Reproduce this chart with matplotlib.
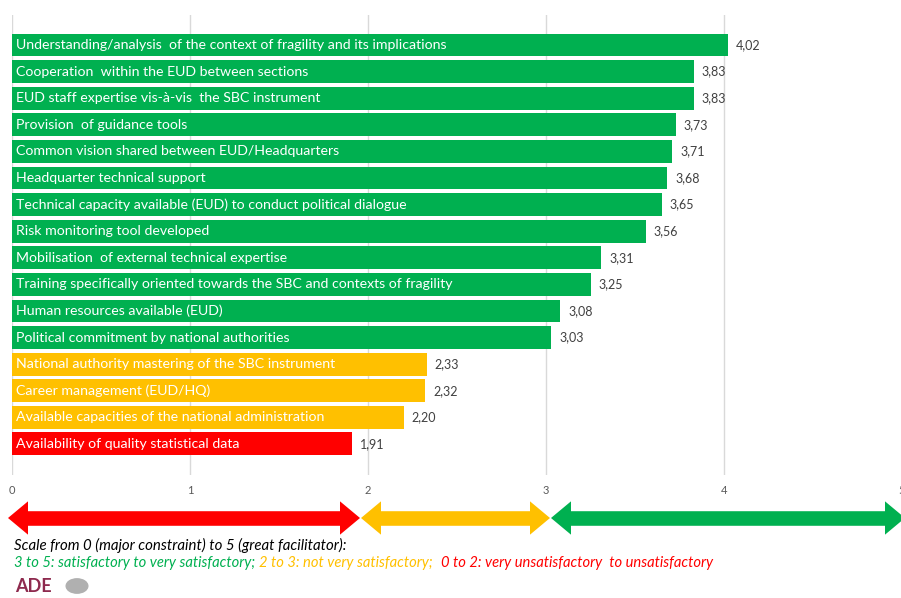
import matplotlib.pyplot as plt
from matplotlib.patches import FancyArrowPatch, Circle

plt.rcParams['font.family'] = ['Lato', 'DejaVu Sans']

labels = [
    "Understanding/analysis  of the context of fragility and its implications",
    "Cooperation  within the EUD between sections",
    "EUD staff expertise vis-à-vis  the SBC instrument",
    "Provision  of guidance tools",
    "Common vision shared between EUD/Headquarters",
    "Headquarter technical support",
    "Technical capacity available (EUD) to conduct political dialogue",
    "Risk monitoring tool developed",
    "Mobilisation  of external technical expertise",
    "Training specifically oriented towards the SBC and contexts of fragility",
    "Human resources available (EUD)",
    "Political commitment by national authorities",
    "National authority mastering of the SBC instrument",
    "Career management (EUD/HQ)",
    "Available capacities of the national administration",
    "Availability of quality statistical data",
]
scores = [4.02, 3.83, 3.83, 3.73, 3.71, 3.68, 3.65, 3.56,
          3.31, 3.25, 3.08, 3.03, 2.33, 2.32, 2.20, 1.91]

GREEN = "#00B050"
ORANGE = "#FFC000"
RED = "#FF0000"


def band_colour(v):
    if v >= 3:
        return GREEN
    if v >= 2:
        return ORANGE
    return RED


W, H = 901, 598
fig = plt.figure(figsize=(W / 100, H / 100), dpi=100)
ax = fig.add_axes([12 / W, (H - 475) / H, 890 / W, 460 / H])

pos = list(range(len(scores)))
ax.barh(pos, scores, height=0.86, color=[band_colour(v) for v in scores], zorder=2)
for y, v, name in zip(pos, scores, labels):
    ax.text(0.02, y, name, color="white", fontsize=10.2, va="center", ha="left", zorder=3)
    ax.text(v + 0.045, y, f"{v:.2f}".replace(".", ","), color="#404040",
            fontsize=9, va="center", ha="left")

ax.set_xlim(0, 5)
ax.set_ylim(len(scores) - 1 + 1.17, -1.13)
ax.set_xticks(range(6))
ax.set_yticks([])
ax.tick_params(axis="x", length=0, pad=7, labelsize=8, labelcolor="#595959")
ax.grid(axis="x", color="#D9D9D9", linewidth=1, zorder=0)
for s in ax.spines.values():
    s.set_visible(False)

# colour scale arrows under the axis
def scale_arrow(x0, x1, colour):
    y = (H - 518) / H
    fig.add_artist(FancyArrowPatch(
        (x0 / W, y), (x1 / W, y),
        transform=fig.transFigure, arrowstyle="<|-|>,head_length=1.2,head_width=1.0",
        mutation_scale=12, linewidth=0, color=colour, shrinkA=0, shrinkB=0))
    fig.add_artist(plt.Line2D([(x0 + 12) / W, (x1 - 12) / W], [y, y],
                              color=colour, linewidth=10.5, solid_capstyle="butt"))


scale_arrow(8, 360, RED)
scale_arrow(361, 550, ORANGE)
scale_arrow(551, 905, GREEN)

fig.text(14 / W, (H - 545) / H, "Scale from 0 (major constraint) to 5 (great facilitator):",
         fontsize=10.8, style="italic", color="black", va="center")
fig.text(14 / W, (H - 563) / H, "3 to 5: satisfactory to very satisfactory;",
         fontsize=10.6, style="italic", color=GREEN, va="center")
fig.text(259 / W, (H - 563) / H, "2 to 3: not very satisfactory;",
         fontsize=10.6, style="italic", color=ORANGE, va="center")
fig.text(441 / W, (H - 563) / H, "0 to 2: very unsatisfactory  to unsatisfactory",
         fontsize=10.6, style="italic", color=RED, va="center")

# logo
fig.text(15 / W, (H - 587) / H, "ADE", fontsize=13, color="#8E2A4E",
         fontweight="bold", va="center")
fig.add_artist(Circle((77 / W, (H - 586) / H), 0.012, transform=fig.transFigure,
                      color="#B0B0B0"))

fig.savefig("out.png", dpi=100)
